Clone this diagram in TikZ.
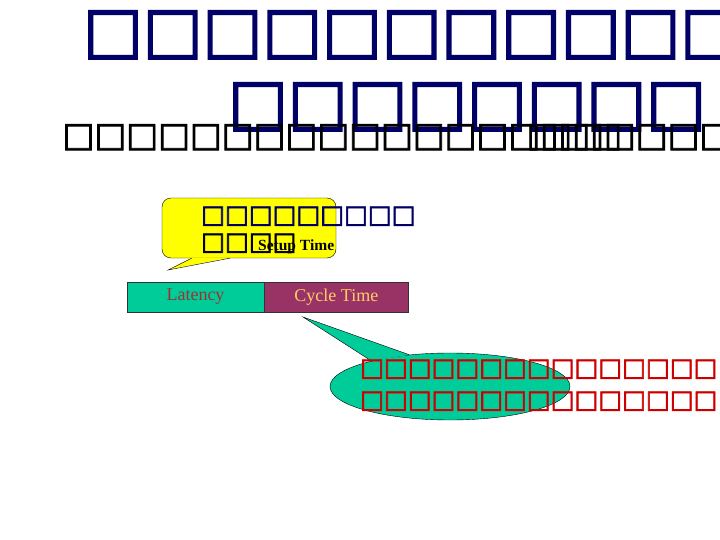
\documentclass[tikz,border=0pt]{standalone}
\usepackage{fontspec}
\setmainfont{Liberation Serif}
\newfontfamily\boxfont{DejaVu Sans Bold}[FakeBold=2.5]
\usepackage{tikz}
\usetikzlibrary{positioning, shapes.geometric, calc}
\definecolor{TitleNavy}{RGB}{0, 0, 102}
\definecolor{NoteYellow}{RGB}{255, 255, 0}
\definecolor{LatencyTeal}{RGB}{0, 204, 153}
\definecolor{CycleMaroon}{RGB}{153, 51, 102}
\definecolor{LatencyText}{RGB}{153, 51, 51}
\definecolor{CycleText}{RGB}{255, 204, 102}
\definecolor{NoteRed}{RGB}{204, 0, 0}
\definecolor{DarkGray}{RGB}{51, 51, 51}

\begin{document}
\begin{tikzpicture}[
    x=1pt, y=-1pt,
    tofu/.style 2 args={inner sep=0pt, anchor=base west, text=#2, font=\boxfont\fontsize{#1}{#1}\selectfont},
    bubble/.style={rectangle, rounded corners=9pt, draw=black, fill=NoteYellow, minimum width=174pt, minimum height=60pt, inner sep=0pt},
    note/.style={ellipse, draw=black, fill=LatencyTeal, minimum width=240pt, minimum height=67pt, inner sep=0pt},
    bar/.style={rectangle, draw=DarkGray, minimum height=30pt, inner sep=0pt, font=\fontsize{18}{18}\selectfont},
    tail/.style={draw=black, line join=miter}
  ]
    \useasboundingbox (0,0) rectangle (720,540);
    \clip (0,0) rectangle (720,540);

    % title
    \node[tofu={63.2}{TitleNavy}] (titleA) at (83,51.3) {□□□□□□□□□□□};
    \node[tofu={63.2}{TitleNavy}] (titleB) at (228,123.3) {□□□□□□□□};
    \node[tofu={33.7}{black}] (titleC) at (62.4,146) {□□□□□□□□□□□□□□□□□□□□□};
    \node[tofu={33.7}{black}] (titleD) at (526.4,146) {□□□};

    % yellow callout
    \node[bubble] (setup) at (249,228) {};
    \coordinate (setuptip) at (168,270);
    \fill[NoteYellow] ([xshift=30pt,yshift=0.6pt]setup.south west) -- (setuptip) -- ([xshift=68pt,yshift=0.6pt]setup.south west) -- cycle;
    \draw[tail] ([xshift=30pt]setup.south west) -- (setuptip) -- ([xshift=68pt]setup.south west);
    \node[tofu={25.2}{TitleNavy}] (setupA) at (201,222.8) {□□□□□□□□□};
    \node[tofu={25.2}{black}] (setupB) at (201,249.8) {□□□□};
    \node[anchor=base west, inner sep=0pt, font=\bfseries\fontsize{15.5}{15.5}\selectfont] (setuplabel) at (258,250) {Setup Time};

    % latency and cycle time
    \node[bar, fill=LatencyTeal, text=LatencyText, minimum width=137pt] (latency) at (195.5,297) {Latency};
    \node[bar, fill=CycleMaroon, text=CycleText, minimum width=144pt, right=0pt of latency] (cycle) {Cycle Time};

    % green callout
    \node[note] (delay) at (450,386.5) {};
    \coordinate (delaytip) at (303,317);
    \fill[LatencyTeal] (delay.162) -- (delaytip) -- (delay.142) -- cycle;
    \draw[tail] (delay.162) -- (delaytip) -- (delay.142);
    \node[tofu={25.2}{NoteRed}] (delayA) at (360,375.8) {□□□□□□□□□□□□□□□};
    \node[tofu={25.2}{NoteRed}] (delayB) at (360,407.8) {□□□□□□□□□□□□□□□};
  \end{tikzpicture}
\end{document}
